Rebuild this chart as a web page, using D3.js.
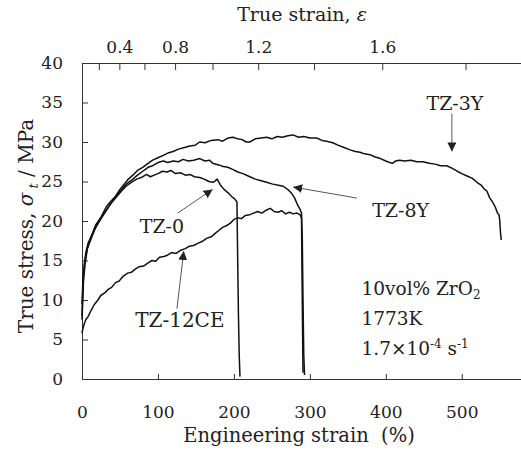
<!DOCTYPE html>
<html><head><meta charset="utf-8">
<script src="https://cdn.jsdelivr.net/npm/d3@7"></script>
<style>
body{margin:0;background:#fff;}
text{font-family:"DejaVu Serif","Liberation Serif",serif;fill:#222;white-space:pre;}
</style></head>
<body><svg id="c" width="521" height="453"></svg>
<script>
// ---------- data ----------
const engTicks = [0,100,200,300,400,500];
const stressTicks = [0,5,10,15,20,25,30,35,40];
const trueStrainTicks = [0.2,0.4,0.6,0.8,1.0,1.2,1.4,1.6,1.8];
const trueStrainLabels = [0.4,0.8,1.2,1.6];

const tz3Y = [[0,8],[1,11],[2,13],[3,14.5],[5,16],[8,17.2],[12,18],[18,19.5],[25,20.5],[32,21.8],[38,22.5],[43,23],[50,24],[55,24.6],[60,25.2],[67,25.8],[73,26.4],[80,26.8],[87,27.3],[93,27.7],[100,28.0],[107,28.3],[113,28.6],[120,28.8],[127,29.1],[135,29.3],[142,29.5],[149,29.6],[155,30.0],[162,29.9],[170,30.2],[179,30.3],[185,30.1],[192,30.5],[199,30.6],[205,30.4],[211,30.3],[216,30.0],[221,30.0],[228,30.4],[236,30.5],[243,30.6],[250,30.4],[257,30.7],[264,30.6],[271,30.8],[278,30.9],[285,30.6],[292,30.7],[300,30.5],[309,30.5],[316,30.2],[322,30.1],[330,29.9],[337,29.6],[345,29.3],[353,29.0],[360,28.8],[366,28.7],[372,28.5],[379,28.4],[386,28.1],[393,27.9],[400,27.6],[405,27.4],[409,27.3],[413,27.6],[418,27.7],[425,27.6],[433,27.7],[441,27.5],[449,27.5],[457,27.3],[465,27.2],[472,27.0],[480,27.0],[487,26.7],[494,26.3],[500,26.0],[507,25.7],[514,25.4],[520,24.9],[526,24.5],[530,24.0],[533,23.8],[537,22.9],[540,22.5],[544,21.8],[547,21.0],[549,20.8],[550,20.1],[551,18.5],[552,17.6]];

const tz8Y = [[0,7.5],[1,10],[2,12.5],[4,14.5],[7,16.5],[11,17.8],[18,19.2],[25,20.3],[33,21.5],[40,22.5],[48,23.5],[55,24.3],[60,24.8],[67,25.3],[73,25.8],[80,26.3],[87,26.8],[93,27.0],[100,27.4],[107,27.6],[113,27.4],[120,27.6],[127,27.5],[133,27.8],[140,27.6],[147,27.7],[155,27.9],[162,27.6],[168,27.7],[172,27.3],[180,27.1],[186,26.9],[192,26.8],[199,26.5],[205,26.2],[212,26.0],[221,25.6],[228,25.3],[236,25.1],[243,24.9],[250,24.7],[260,24.5],[265,24.4],[272,23.9],[276,23.5],[280,22.9],[284,22.0],[287,21.5],[289,21.0],[290,18],[291,10],[292,3],[293,0.5]];

const tz0 = [[0,9.5],[1,12],[2,13.5],[4,15],[7,16.5],[11,17.5],[17,19],[24,20.2],[31,21.2],[38,22.2],[45,23.0],[52,23.8],[58,24.4],[65,24.9],[72,25.3],[78,25.5],[85,25.9],[90,25.6],[95,25.8],[100,26.0],[106,26.3],[112,26.2],[117,26.4],[123,26.0],[130,26.1],[136,25.8],[142,25.9],[148,25.6],[155,25.5],[161,25.3],[167,25.0],[173,24.9],[178,25.3],[182,24.6],[187,24.0],[192,23.6],[197,23.1],[201,22.8],[204,22.4],[205,15],[206,8],[207,3],[208,0.3]];

const tz12CE = [[0,5.8],[1,6.3],[3,7.0],[5,7.5],[8,7.9],[12,8.7],[16,9.4],[21,10.0],[25,10.6],[30,10.9],[34,11.3],[39,11.6],[44,12.2],[49,12.4],[54,13.0],[60,13.4],[65,13.5],[70,13.9],[75,14.2],[81,14.3],[87,14.7],[92,15.0],[97,14.9],[102,15.4],[108,15.5],[113,15.7],[118,16.0],[124,15.9],[130,16.3],[136,16.5],[141,16.8],[147,16.9],[153,17.2],[158,17.4],[164,17.8],[170,18.0],[175,18.4],[180,18.8],[185,19.2],[190,19.4],[195,19.7],[200,20.2],[205,20.4],[210,20.3],[215,20.7],[221,20.8],[226,21.0],[231,21.2],[237,21.0],[243,21.4],[248,21.6],[253,21.2],[258,21.1],[263,21.3],[268,20.9],[273,21.1],[278,20.9],[283,21.0],[287,20.8],[289,20.4],[290,10],[291,0.8]];

const seriesNames = ["TZ-3Y","TZ-8Y","TZ-0","TZ-12CE"];
const seriesData = [tz3Y, tz8Y, tz0, tz12CE];
// annotation: label anchor (e, s), arrow start (e, s), arrow tip (e, s)
const labelPos = [[491,34.1],[382,20.5],[76,18.5],[70,6.6]];
const arrowFrom = [[487,33.6],[362,22.9],[126,21.0],[125,8.9]];
const arrowTo = [[487,28.8],[278,24.3],[172,24.0],[134,16.2]];
const conditionLines = ["10vol% ZrO2","1773K","1.7×10-4 s-1"];

// ---------- chart ----------
const svg = d3.select("#c");
const x = d3.scaleLinear().domain([0,578]).range([82,521]);
const y = d3.scaleLinear().domain([0,40]).range([379,63]);

function styleAxis(g){
  g.select(".domain").attr("stroke","#333").attr("stroke-width",1);
  g.selectAll(".tick line").attr("stroke","#333");
  g.selectAll(".tick text").style("font-family","DejaVu Serif").style("font-size","17px").attr("fill","#222");
}
svg.append("g").attr("transform","translate(0,379)")
  .call(d3.axisBottom(x).tickValues(engTicks).tickSizeInner(-5).tickSizeOuter(0).tickPadding(27).tickFormat(d3.format("d")))
  .call(styleAxis);
svg.append("g").attr("transform","translate(82,0)")
  .call(d3.axisLeft(y).tickValues(stressTicks).tickSizeInner(-6).tickSizeOuter(0).tickPadding(19))
  .call(styleAxis);
const topTickVals = trueStrainTicks.map(t => 100*(Math.exp(t)-1));
svg.append("g").attr("transform","translate(0,63)")
  .call(d3.axisTop(x).tickValues(topTickVals).tickSizeInner(-7).tickSizeOuter(0).tickPadding(10)
    .tickFormat((v,i) => trueStrainLabels.includes(trueStrainTicks[i]) ? trueStrainTicks[i].toFixed(1) : ""))
  .call(styleAxis);

// curves
const line = d3.line().x(d=>x(d[0])).y(d=>y(d[1]));
svg.append("g").selectAll("path").data(seriesData).join("path")
  .attr("d", line).attr("fill","none").attr("stroke","#111").attr("stroke-width",1.5).attr("stroke-linejoin","round");

// arrows
svg.append("defs").append("marker").attr("id","ah").attr("viewBox","0 0 10 10")
  .attr("refX",10).attr("refY",5).attr("markerWidth",9).attr("markerHeight",9).attr("markerUnits","userSpaceOnUse")
  .attr("orient","auto").append("path").attr("d","M0,0L10,5L0,10Z").attr("fill","#222");
svg.append("g").selectAll("line").data(arrowFrom).join("line")
  .attr("x1",d=>x(d[0])).attr("y1",d=>y(d[1]))
  .attr("x2",(d,i)=>x(arrowTo[i][0])).attr("y2",(d,i)=>y(arrowTo[i][1]))
  .attr("stroke","#444").attr("stroke-width",0.9).attr("marker-end","url(#ah)");

// labels
svg.append("g").selectAll("text").data(seriesNames).join("text")
  .attr("x",(d,i)=>x(labelPos[i][0])).attr("y",(d,i)=>y(labelPos[i][1]))
  .attr("text-anchor",(d,i)=> i===0 ? "middle" : "start")
  .style("font-size",(d,i)=> i===3 ? "20px" : "19px").text(d=>d);

// conditions
const cx = x(368);
const c1 = svg.append("text").attr("x",cx).attr("y",y(10.6)).style("font-size","18.5px");
c1.append("tspan").text("10vol% ZrO");
c1.append("tspan").attr("dy",4).style("font-size","12px").text("2");
svg.append("text").attr("x",cx).attr("y",y(6.8)).style("font-size","18.5px").text(conditionLines[1]);
const c3 = svg.append("text").attr("x",cx).attr("y",y(3.0)).style("font-size","18.5px");
c3.append("tspan").text("1.7×10");
c3.append("tspan").attr("dy",-7).style("font-size","12px").text("-4");
c3.append("tspan").attr("dy",7).text(" s");
c3.append("tspan").attr("dy",-7).style("font-size","12px").text("-1");

// axis titles
svg.append("text").attr("x",299).attr("y",442).attr("text-anchor","middle").style("font-size","19.5px")
  .text("Engineering strain  (%)");
const tt = svg.append("text").attr("x",302).attr("y",21).attr("text-anchor","middle").style("font-size","19px");
tt.append("tspan").text("True strain, ");
tt.append("tspan").style("font-style","italic").text("ε");
const yt = svg.append("text").attr("transform","translate(33,226) rotate(-90)").attr("text-anchor","middle").style("font-size","20px").attr("fill","#222");
yt.append("tspan").text("True stress, ");
yt.append("tspan").style("font-style","italic").text("σ");
yt.append("tspan").attr("dy",5).style("font-size","13px").style("font-style","italic").text(" t");
yt.append("tspan").attr("dy",-5).text(" / MPa");
</script></body></html>
